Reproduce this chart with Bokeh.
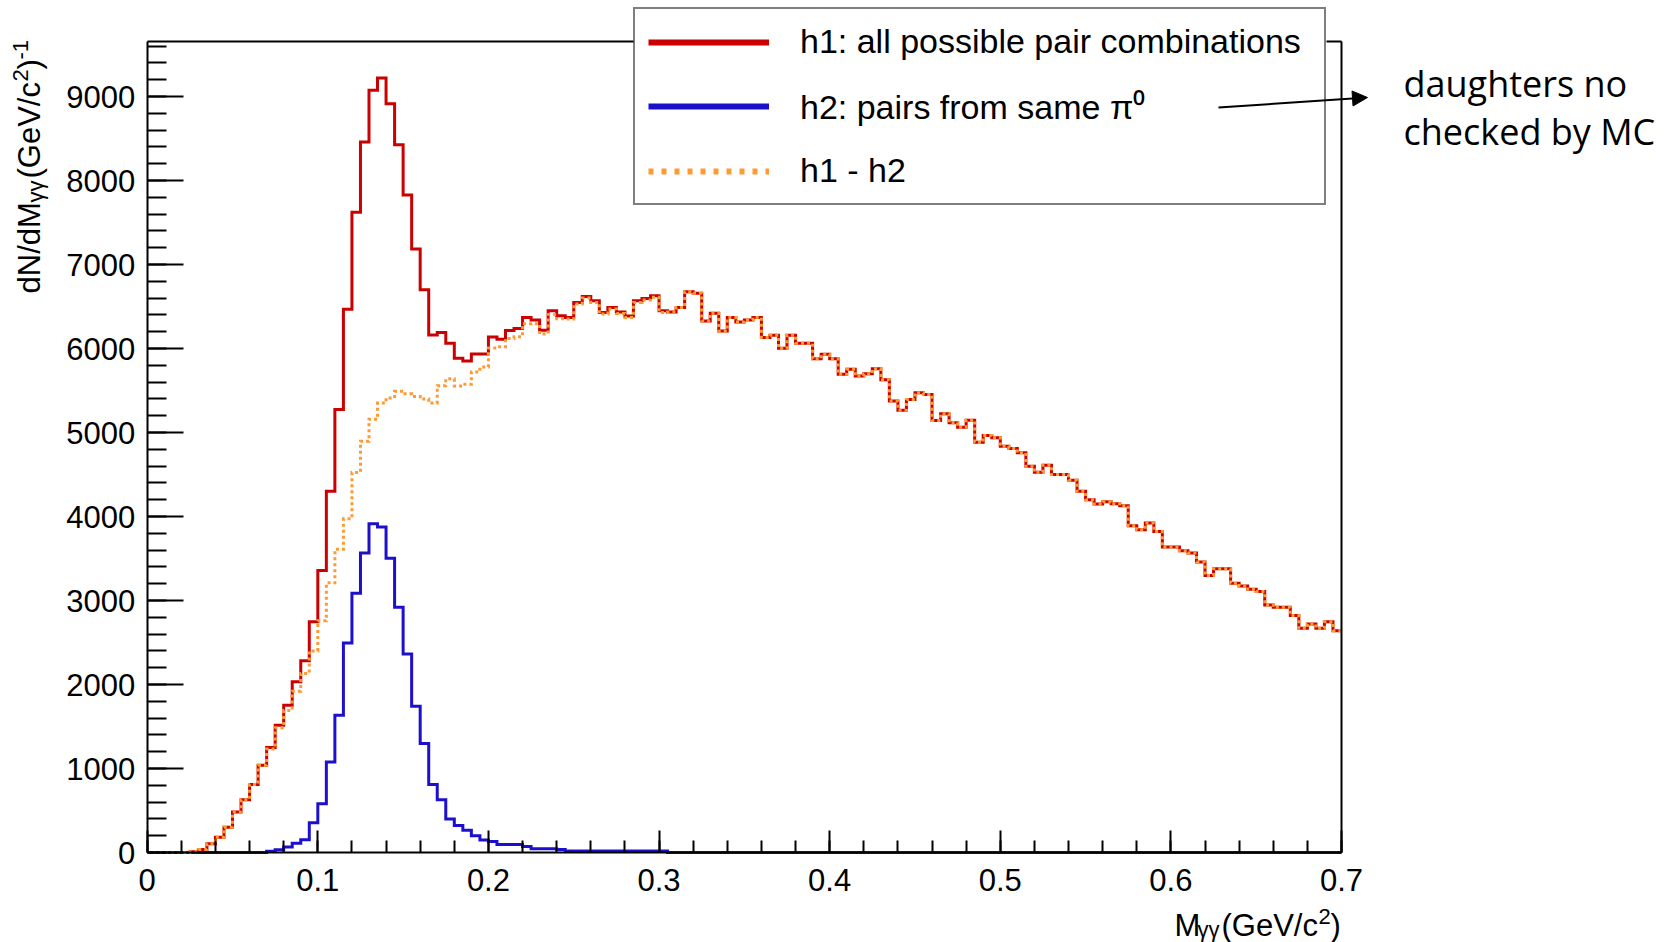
import numpy as np
from bokeh.plotting import figure
from bokeh.models import (Range1d, FixedTicker, LinearAxis, Legend, LegendItem,
                          Label, Arrow, NormalHead)
from bokeh.core.properties import value
from bokeh.embed import file_html
from bokeh.resources import INLINE

# ---------------- data ----------------
mass_min = 0.0
mass_max = 0.7
bin_count = 140          # bins of 0.005 GeV/c^2
y_axis_max = 9655        # top of the histogram frame

h1_all_pairs = [
    0, 0, 0, 0, 0, 8, 35, 104, 183, 302,
    481, 629, 811, 1038, 1249, 1516, 1754, 2032, 2283, 2748,
    3357, 4300, 5274, 6468, 7621, 8457, 9073, 9220, 8914, 8425,
    7828, 7184, 6698, 6161, 6190, 6062, 5885, 5851, 5935, 5935,
    6137, 6110, 6215, 6237, 6368, 6340, 6217, 6448, 6390, 6368,
    6548, 6619, 6567, 6428, 6488, 6436, 6388, 6567, 6595, 6627,
    6448, 6436, 6488, 6675, 6659, 6328, 6420, 6209, 6368, 6316,
    6340, 6368, 6130, 6158, 6002, 6158, 6062, 6062, 5879, 5931,
    5879, 5692, 5752, 5672, 5700, 5760, 5628, 5374, 5266, 5394,
    5474, 5453, 5143, 5223, 5116, 5063, 5147, 4884, 4964, 4937,
    4837, 4809, 4758, 4598, 4526, 4610, 4499, 4499, 4431, 4300,
    4200, 4149, 4177, 4153, 4129, 3890, 3842, 3922, 3822, 3636,
    3636, 3592, 3564, 3457, 3297, 3377, 3377, 3206, 3174, 3135,
    3106, 2947, 2920, 2920, 2820, 2669, 2721, 2669, 2748, 2641,
]

h2_same_pi0 = [
    0, 0, 0, 0, 0, 0, 0, 0, 0, 0,
    0, 0, 0, 0, 16, 32, 64, 111, 151, 354,
    581, 1078, 1635, 2495, 3087, 3564, 3914, 3875, 3504, 2920,
    2363, 1742, 1297, 811, 629, 400, 322, 265, 200, 150,
    131, 95, 95, 95, 72, 44, 44, 44, 36, 18,
    18, 18, 18, 18, 18, 18, 18, 18, 18, 18,
    18, 0, 0, 0, 0, 0, 0, 0, 0, 0,
    0, 0, 0, 0, 0, 0, 0, 0, 0, 0,
    0, 0, 0, 0, 0, 0, 0, 0, 0, 0,
    0, 0, 0, 0, 0, 0, 0, 0, 0, 0,
    0, 0, 0, 0, 0, 0, 0, 0, 0, 0,
    0, 0, 0, 0, 0, 0, 0, 0, 0, 0,
    0, 0, 0, 0, 0, 0, 0, 0, 0, 0,
    0, 0, 0, 0, 0, 0, 0, 0, 0, 0,
]

h1_minus_h2 = [
    0, 0, 0, 0, 0, 8, 35, 104, 183, 302,
    481, 629, 811, 1038, 1233, 1484, 1690, 1921, 2132, 2400,
    2760, 3210, 3610, 3972, 4525, 4895, 5157, 5350, 5412, 5490,
    5460, 5430, 5398, 5352, 5558, 5640, 5555, 5575, 5720, 5780,
    6006, 6020, 6120, 6140, 6295, 6296, 6173, 6404, 6354, 6350,
    6530, 6601, 6549, 6410, 6470, 6418, 6370, 6549, 6577, 6609,
    6430, 6436, 6488, 6675, 6659, 6328, 6420, 6209, 6368, 6316,
    6340, 6368, 6130, 6158, 6002, 6158, 6062, 6062, 5879, 5931,
    5879, 5692, 5752, 5672, 5700, 5760, 5628, 5374, 5266, 5394,
    5474, 5453, 5143, 5223, 5116, 5063, 5147, 4884, 4964, 4937,
    4837, 4809, 4758, 4598, 4526, 4610, 4499, 4499, 4431, 4300,
    4200, 4149, 4177, 4153, 4129, 3890, 3842, 3922, 3822, 3636,
    3636, 3592, 3564, 3457, 3297, 3377, 3377, 3206, 3174, 3135,
    3106, 2947, 2920, 2920, 2820, 2669, 2721, 2669, 2748, 2641,
]

x_tick_values = [0.0, 0.1, 0.2, 0.3, 0.4, 0.5, 0.6, 0.7]
x_tick_labels = ["0", "0.1", "0.2", "0.3", "0.4", "0.5", "0.6", "0.7"]
y_tick_values = [0, 1000, 2000, 3000, 4000, 5000, 6000, 7000, 8000, 9000]
y_tick_labels = ["0", "1000", "2000", "3000", "4000", "5000", "6000", "7000", "8000", "9000"]

legend_labels = ["h1: all possible pair combinations",
                 "h2: pairs from same \u03c0\u2070",
                 "h1 - h2"]
annotation_lines = ["daughters no", "checked by MC"]

# ---------------- style / layout ----------------
RED = "#cc0000"
BLUE = "#1c10cc"
ORANGE = "#ff9933"
FONT = "Liberation Sans"
W, H = 1672, 942
# pixel placement of the histogram frame inside the canvas
FR_LEFT, FR_RIGHT, FR_BOTTOM = 146.7, 1341.0, 852.0
PX_PER_UNIT_Y = 0.084
LEG_LEFT, LEG_RIGHT = 633.0, 1326.0   # legend box edges (canvas px)

edges = np.linspace(mass_min, mass_max, bin_count + 1)


def step_outline(counts):
    c = np.asarray(counts, dtype=float)
    return np.repeat(edges, 2)[1:-1], np.repeat(c, 2)


sx = (FR_RIGHT - FR_LEFT) / (mass_max - mass_min)
x_start = mass_min - FR_LEFT / sx
x_end = mass_max + (W - FR_RIGHT) / sx
y_start = -(H - FR_BOTTOM) / PX_PER_UNIT_Y
y_end = FR_BOTTOM / PX_PER_UNIT_Y


def px_to_x(px):
    return mass_min + (px - FR_LEFT) / sx


p = figure(width=W, height=H,
           x_range=Range1d(x_start, x_end), y_range=Range1d(y_start, y_end),
           output_backend="svg", toolbar_location=None,
           min_border_left=0, min_border_right=0,
           min_border_top=0, min_border_bottom=0)
p.background_fill_color = "white"
p.border_fill_color = "white"
p.outline_line_color = None
p.xgrid.grid_line_color = None
p.ygrid.grid_line_color = None

x_minor = [round(v, 4) for v in np.arange(0, 0.7001, 0.02)]
y_minor = list(range(0, 9601, 200))

xa = p.xaxis[0]
xa.fixed_location = 0
xa.bounds = (mass_min, mass_max)
xa.ticker = FixedTicker(ticks=x_tick_values, minor_ticks=x_minor)
xa.major_label_overrides = dict(zip(x_tick_values, x_tick_labels))
xa.major_tick_in = 22
xa.major_tick_out = 0
xa.minor_tick_in = 12
xa.minor_tick_out = 0
xa.major_label_standoff = 16

ya = p.yaxis[0]
ya.fixed_location = 0
ya.bounds = (0, y_axis_max)
ya.ticker = FixedTicker(ticks=y_tick_values, minor_ticks=y_minor)
ya.major_label_overrides = dict(zip(y_tick_values, y_tick_labels))
ya.major_tick_in = 36
ya.major_tick_out = 0
ya.minor_tick_in = 19
ya.minor_tick_out = 0
ya.major_label_standoff = 12

for ax in (xa, ya):
    ax.axis_line_width = 2
    ax.axis_line_color = "black"
    ax.major_tick_line_width = 2
    ax.minor_tick_line_width = 2
    ax.major_tick_line_color = "black"
    ax.minor_tick_line_color = "black"
    ax.major_label_text_font = FONT
    ax.major_label_text_font_size = "31px"
    ax.major_label_text_color = "black"

# frame lines on top (interrupted by the legend box) and right, no ticks
frame_axes = [
    (LinearAxis(fixed_location=y_axis_max, bounds=(mass_min, px_to_x(LEG_LEFT))), "above"),
    (LinearAxis(fixed_location=y_axis_max, bounds=(px_to_x(LEG_RIGHT), mass_max)), "above"),
    (LinearAxis(fixed_location=mass_max, bounds=(0, y_axis_max)), "right"),
]
for fa, side in frame_axes:
    fa.ticker = FixedTicker(ticks=[])
    fa.axis_line_width = 2
    fa.axis_line_color = "black"
    fa.major_tick_in = 0
    fa.major_tick_out = 0
    fa.minor_tick_in = 0
    fa.minor_tick_out = 0
    fa.major_label_text_font_size = "0px"
    p.add_layout(fa, side)

# histograms
x1, y1 = step_outline(h1_all_pairs)
x2, y2 = step_outline(h2_same_pi0)
x3, y3 = step_outline(h1_minus_h2)
p.line(x1, y1, line_color=RED, line_width=3, line_join="miter")
p.line(x2, y2, line_color=BLUE, line_width=3, line_join="miter")
p.line(x3, y3, line_color=ORANGE, line_width=3, line_dash="3 3", line_join="miter")

# legend keys: single-point lines (draw nothing in the plot, only the legend key)
lg1 = p.line(x=x1[:1], y=y1[:1], line_color=RED, line_width=6)
lg2 = p.line(x=x2[:1], y=y2[:1], line_color=BLUE, line_width=6)
lg3 = p.line(x=x3[:1], y=y3[:1], line_color=ORANGE, line_width=6, line_dash="5 8")
legend = Legend(
    items=[LegendItem(label=value(legend_labels[0]), renderers=[lg1]),
           LegendItem(label=value(legend_labels[1]), renderers=[lg2]),
           LegendItem(label=value(legend_labels[2]), renderers=[lg3])],
    location=(LEG_LEFT, H - 205), margin=0, padding=13, spacing=22,
    glyph_width=121, glyph_height=38, label_height=38,
    label_standoff=31, label_width=511,
    label_text_font=FONT, label_text_font_size="34px",
    label_text_color="black",
    border_line_color="black", border_line_width=2,
    background_fill_color="white", background_fill_alpha=0.0,
)
p.add_layout(legend)


def piece(text, x, y_top, size, angle=0.0, font=FONT):
    # x, y_top in canvas pixels measured from the top-left corner
    lab = Label(x=x, y=H - y_top, x_units="screen", y_units="screen",
                text=text, text_font=font, text_font_size=size,
                text_color="black", text_align="left",
                text_baseline="alphabetic", angle=angle)
    lab.level = "overlay"
    p.add_layout(lab)


# x title: M_{gamma gamma} (GeV/c^2)
piece("M", 1174, 925, "31px")
piece("\u03b3\u03b3", 1197, 929, "22px")
piece("(GeV/c", 1221, 925, "31px")
piece("2", 1318, 916, "22px")
piece(")", 1330, 925, "31px")

# y title: dN/dM_{gamma gamma} (GeV/c^2)^-1  (rotated)
ang = np.pi / 2
piece("dN/dM", 29, 293, "31px", ang)
piece("\u03b3\u03b3", 35, 202, "22px", ang)
piece("(GeV/c", 29, 178, "31px", ang)
piece("2", 20, 81, "22px", ang)
piece(")", 29, 69, "31px", ang)
piece("-1", 20, 59, "22px", ang)

# side note with arrow
arrow = Arrow(x_start=1218, y_start=H - 107, x_end=1367, y_end=H - 97,
              start_units="screen", end_units="screen",
              line_color="black", line_width=2,
              end=NormalHead(size=15, fill_color="black", line_color="black"))
arrow.level = "overlay"
p.add_layout(arrow)
piece(annotation_lines[0], 1403, 83, "36px", 0.0, "Open Sans")
piece(annotation_lines[1], 1403, 131, "36px", 0.0, "Open Sans")

open("out.html", "w").write(file_html(p, INLINE))
